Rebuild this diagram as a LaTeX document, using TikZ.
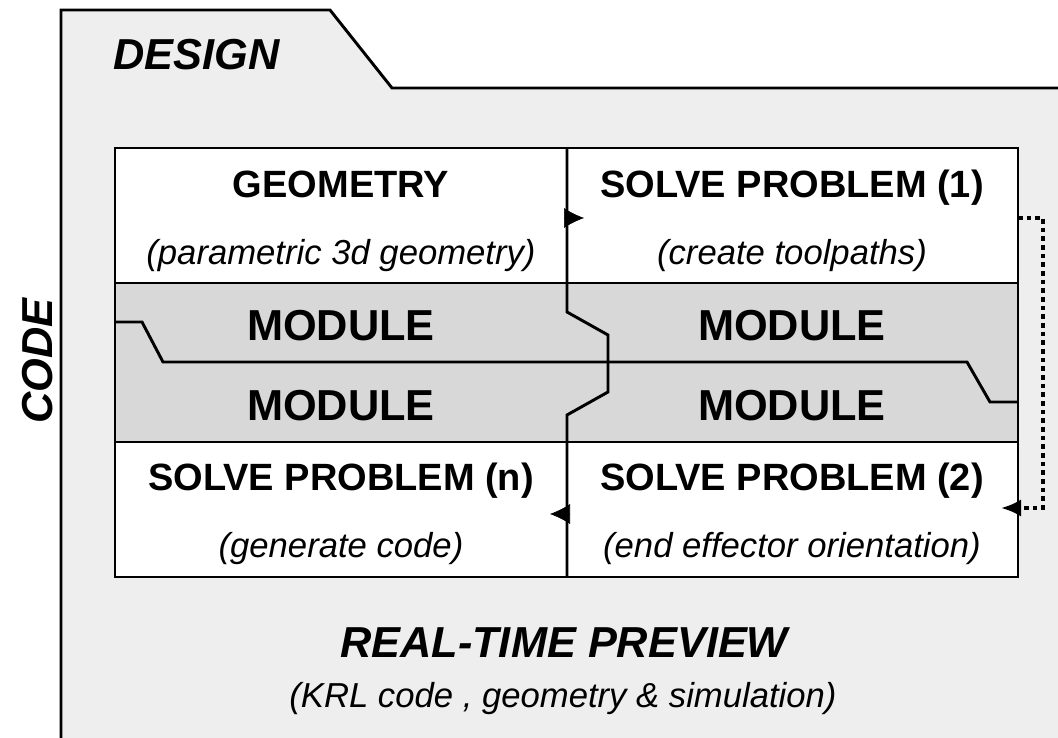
\documentclass[tikz,border=0pt]{standalone}
\usepackage{fontspec}
\setmainfont{Liberation Sans}
\usetikzlibrary{arrows.meta}

\definecolor{panelgray}{RGB}{238,238,238}
\definecolor{bandgray}{RGB}{216,216,216}

\tikzset{
  heading/.style={font=\fontsize{32.5}{38}\selectfont\bfseries\itshape, anchor=base, inner sep=0pt},
  celltitle/.style={font=\fontsize{28.5}{34}\selectfont\bfseries, anchor=base, inner sep=0pt},
  cellnote/.style={font=\fontsize{26}{31}\selectfont\itshape, anchor=base, inner sep=0pt},
  modlabel/.style={font=\fontsize{32.5}{38}\selectfont\bfseries, anchor=base, inner sep=0pt},
  frame/.style={line width=2.2pt, line join=miter},
  handover/.style={-{Latex[length=15pt,width=15pt]}},
  loopback/.style={line width=2.8pt, dash pattern=on 3.5pt off 3pt, -{Latex[length=15pt,width=13pt]}},
}

\begin{document}
\begin{tikzpicture}[x=0.75pt,y=-0.75pt]
\useasboundingbox (0,0) rectangle (1058,738);

% design folder
\fill[panelgray] (61,745) -- (61,10) -- (330,10) -- (392,88) -- (1065,88) -- (1065,745) -- cycle;
\draw[frame] (61,745) -- (61,10) -- (330,10) -- (392,88) -- (1065,88);

% table
\fill[white] (115,148) rectangle (1018,577);
\fill[bandgray] (115,283) rectangle (1018,442);
\draw[line width=0.9pt] (115,283) -- (1018,283) (115,442) -- (1018,442);
\draw[frame] (115,322) -- (142,322) -- (163,362) -- (967,362) -- (990,402) -- (1018,402);
\draw[frame] (567,148) -- (567,312) -- (608,335) -- (608,392) -- (567,415) -- (567,577);
\draw[frame] (115,148) rectangle (1018,577);

% labels
\node[heading, anchor=base west] (design) at (113,70) {DESIGN};
\node[heading, rotate=90] (code) at (52,361) {CODE};

\node[celltitle] (geo) at (341,198) {GEOMETRY};
\node[cellnote] (geonote) at (341,265) {(parametric 3d geometry)};
\node[celltitle] (sp1) at (792,198) {SOLVE PROBLEM (1)};
\node[cellnote] (sp1note) at (792,265) {(create toolpaths)};

\node[modlabel] (modA) at (341,340) {MODULE};
\node[modlabel] (modB) at (792,340) {MODULE};
\node[modlabel] (modC) at (341,420) {MODULE};
\node[modlabel] (modD) at (792,420) {MODULE};

\node[celltitle] (spn) at (341,490) {SOLVE PROBLEM (n)};
\node[cellnote] (spnnote) at (341,557) {(generate code)};
\node[celltitle] (sp2) at (792,490) {SOLVE PROBLEM (2)};
\node[cellnote] (sp2note) at (792,557) {(end effector orientation)};

\node[heading] (preview) at (564,657) {REAL-TIME PREVIEW};
\node[cellnote] (previewnote) at (563,707) {(KRL code , geometry \& simulation)};

% hand-over tips
\coordinate (div1) at (567,218);
\coordinate (tip1) at (584,218);
\coordinate (div2) at (567,514);
\coordinate (tip2) at (550,514);
\draw[handover] (div1) -- (tip1);
\draw[handover] (div2) -- (tip2);

% loop back
\coordinate (lbout) at (1018,218);
\coordinate (lbin) at (1001,508);
\draw[loopback] (lbout) -- (1043,218) |- (lbin);
\end{tikzpicture}
\end{document}
